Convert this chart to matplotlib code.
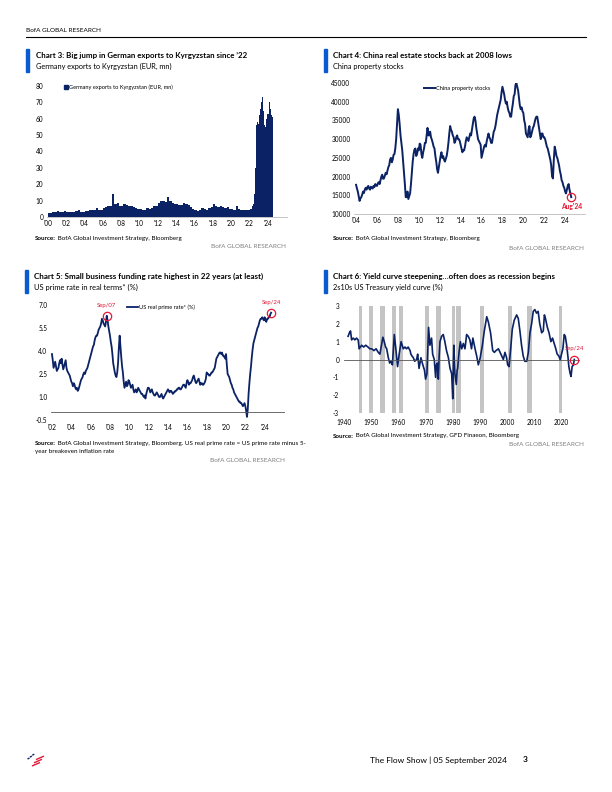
import numpy as np
import matplotlib
matplotlib.use('Agg')
import matplotlib.pyplot as plt
from matplotlib.lines import Line2D
from matplotlib.patches import Patch

# ---- data ----
# Chart 3: Germany exports to Kyrgyzstan (EUR mn), quarterly 2000-2021 then monthly 2022-01..2024-07
ger_quarterly = [2.5, 2.5, 2.8, 3.0, 3.5, 3.0, 3.2, 3.5, 3.0, 3.0, 2.8, 3.0,
                 3.5, 4.0, 3.2, 3.0, 3.5, 3.8, 4.0, 4.2, 4.5, 5.5, 4.0, 4.5,
                 5.5, 6.0, 7.0, 6.5, 14.0, 8.0, 8.5, 7.0, 7.0, 8.0, 7.5, 7.0,
                 6.5, 6.0, 5.5, 5.0, 5.0, 4.5, 4.5, 5.5, 5.0, 5.5, 6.5, 7.0,
                 8.5, 10.0, 9.5, 9.0, 12.5, 10.0, 8.5, 8.0, 8.0, 7.5, 7.5, 8.5,
                 8.0, 7.5, 6.0, 5.0, 4.0, 3.5, 4.0, 5.5, 5.0, 4.5, 5.5, 6.0,
                 8.0, 6.5, 6.0, 6.5, 6.0, 5.5, 6.0, 5.0, 5.0, 4.5, 7.0, 5.0,
                 4.0, 4.0, 4.5, 4.5]
ger_monthly = [4, 5, 5, 6, 7, 8, 14, 30, 52, 56, 58, 57,
               58, 62, 66, 70, 72, 73, 65, 56, 55, 55, 60, 63,
               63, 75, 70, 66, 62, 61, 61]

# Chart 4: China property stocks, monthly Jan 2004 .. Aug 2024
china_prop = [17800, 16800, 16000, 14800, 13500, 14200, 14500, 15200, 16000, 15600, 16500, 17000,
              16500, 17200, 17500, 16800, 16500, 17300, 17000, 16800, 17500, 17200, 18000, 17600,
              17500, 18200, 18500, 18000, 19000, 20000, 20500, 19400, 19500, 20300, 21000, 20600,
              21500, 22500, 23000, 24500, 25000, 23800, 24500, 25800, 26000, 27500, 30000, 34000,
              38000, 36500, 34000, 31000, 29000, 27000, 24000, 21000, 18000, 14500, 14500, 16000,
              14000, 14800, 15500, 18000, 21000, 24000, 26000, 27200, 27500, 25500, 26000, 27500,
              27000, 28800, 28500, 26000, 25000, 26500, 27500, 29000, 29000, 31000, 33000, 31000,
              31000, 32000, 30500, 29800, 29000, 28000, 27500, 25500, 24000, 22000, 21000, 22500,
              24000, 25500, 26500, 25000, 25500, 24500, 24000, 24800, 25500, 27000, 29000, 31500,
              33500, 32500, 32000, 31000, 30500, 29000, 29500, 30500, 31000, 30000, 30000, 29500,
              28500, 27500, 26500, 27000, 27000, 28000, 29500, 30500, 30000, 29500, 30500, 31500,
              31000, 32500, 34000, 35500, 36000, 35000, 33000, 31500, 30000, 29500, 29000, 28500,
              25000, 26000, 27000, 28000, 28500, 28000, 29500, 30500, 31500, 30500, 30000, 29000,
              29000, 30500, 32000, 32500, 33500, 35000, 36500, 37500, 38500, 39500, 40500, 42500,
              44000, 43000, 42000, 40500, 39500, 40000, 38500, 37500, 37000, 36000, 36000, 38000,
              39500, 41500, 42000, 44500, 45000, 44000, 43000, 41000, 39000, 38000, 38500, 37500,
              37000, 35000, 34000, 31500, 31000, 30500, 32500, 33500, 30500, 31000, 32000, 33000,
              33500, 34500, 35500, 36000, 36000, 34500, 33000, 31500, 30000, 31500, 31500, 30500,
              30500, 30000, 29000, 28000, 27500, 26500, 25500, 24500, 23000, 20000, 19500, 24500,
              28000, 27000, 25500, 25000, 24000, 23000, 21500, 20500, 19000, 18500, 17500, 17000,
              16000, 15500, 16500, 17500, 18000, 16500, 15500, 14500]

# Chart 5: US real prime rate (%), monthly Jan 2002 .. Sep 2024
real_prime = [3.8, 3.4, 2.9, 3.1, 3.3, 3.0, 2.7, 2.8, 2.9, 3.2, 3.4, 3.2,
              3.5, 3.1, 2.8, 3.0, 3.2, 3.4, 2.9, 2.7, 2.6, 2.5, 2.4, 2.2,
              2.0, 1.9, 1.7, 1.9, 1.8, 1.6, 1.5, 1.6, 1.4, 1.5, 1.7, 1.9,
              2.1, 2.2, 2.3, 2.5, 2.6, 2.5, 2.7, 2.8, 2.9, 3.1, 3.3, 3.5,
              3.7, 3.9, 4.1, 4.3, 4.4, 4.7, 4.9, 5.0, 5.0, 5.2, 5.4, 5.5,
              5.6, 5.8, 6.1, 6.0, 5.8, 5.7, 5.6, 5.9, 6.3, 6.0, 5.6, 5.3,
              5.0, 4.6, 4.3, 3.8, 3.2, 2.9, 2.6, 2.4, 2.3, 2.6, 3.2, 4.2,
              5.0, 4.3, 3.6, 3.0, 2.6, 2.0, 1.6, 1.8, 2.0, 1.7, 1.8, 2.1,
              2.0, 1.8, 1.6, 1.7, 1.8, 1.5, 1.3, 1.4, 1.5, 1.3, 1.4, 1.6,
              1.5, 1.4, 1.3, 1.2, 1.2, 1.1, 1.0, 1.1, 0.9, 1.2, 1.4, 1.6,
              1.6, 1.5, 1.3, 1.4, 1.5, 1.3, 1.2, 1.1, 1.1, 1.2, 1.3, 1.2,
              1.1, 1.0, 1.0, 1.1, 1.2, 1.0, 0.9, 1.0, 1.1, 1.2, 1.3, 1.4,
              1.5, 1.4, 1.3, 1.4, 1.4, 1.3, 1.2, 1.3, 1.3, 1.4, 1.4, 1.5,
              1.5, 1.6, 1.6, 1.5, 1.5, 1.6, 1.7, 1.8, 1.8, 1.7, 1.6, 1.9,
              2.1, 2.0, 1.8, 1.9, 1.9, 2.0, 2.1, 2.3, 2.4, 2.2, 2.0, 1.9,
              2.0, 2.1, 2.2, 2.0, 1.8, 1.9, 1.9, 1.8, 1.8, 1.9, 2.0, 2.2,
              2.6, 2.5, 2.5, 2.4, 2.4, 2.5, 2.6, 2.6, 2.7, 2.8, 2.9, 3.2,
              3.5, 3.6, 3.7, 3.8, 3.9, 3.9, 3.8, 3.9, 3.7, 3.7, 3.6, 3.5,
              3.8, 3.1, 2.5, 2.4, 2.3, 2.1, 1.9, 1.8, 1.6, 1.5, 1.3, 1.2,
              1.1, 1.0, 0.9, 0.8, 0.7, 0.7, 0.6, 0.6, 0.5, 0.4, 0.5, 0.6,
              0.4, 0.1, -0.3, 0.2, 1.2, 1.9, 2.5, 3.0, 3.6, 4.1, 4.5, 4.7,
              4.9, 5.1, 5.3, 5.5, 5.6, 5.8, 6.0, 6.1, 6.1, 6.2, 6.1, 6.0,
              6.2, 6.0, 5.9, 6.1, 6.1, 6.2, 6.2, 6.4, 6.5]
prime_marks = ['Sep/07', 'Sep/24']
prime_mark_idx = [68, len(real_prime) - 1]

# Chart 6: 2s10s US Treasury yield curve (%)
yc_years = [1941.5, 1942.0, 1942.4, 1942.8, 1943.4, 1944.0, 1944.6, 1945.2, 1945.6, 1946.0, 1946.5, 1947.2, 1948.0, 1948.8, 1949.5,
            1950.2, 1951.0, 1951.8, 1952.6, 1953.2, 1953.8, 1954.3, 1954.8, 1955.3, 1955.7, 1956.3, 1956.8, 1957.3, 1957.8, 1958.5, 1959.0, 1959.7,
            1960.3, 1961.0, 1961.4, 1961.8, 1962.4, 1963.0, 1963.6, 1964.3, 1964.6, 1965.0, 1965.5, 1966.0, 1966.7, 1967.1, 1967.6, 1968.3, 1968.8, 1969.2, 1969.6,
            1970.0, 1970.5, 1970.8, 1971.1, 1971.4, 1971.6, 1971.9, 1972.2, 1972.6, 1973.2, 1973.7, 1974.0, 1974.3, 1974.7, 1975.0, 1975.3, 1975.9, 1976.5, 1977.1, 1977.7, 1978.4, 1979.0, 1979.6,
            1980.0, 1980.2, 1980.4, 1980.8, 1981.3, 1981.6, 1981.8, 1982.3, 1982.8, 1983.3, 1983.9, 1984.5, 1985.1, 1985.7, 1986.3, 1986.9, 1987.4, 1988.2, 1988.8, 1989.4,
            1990.1, 1990.9, 1991.6, 1992.5, 1993.1, 1993.9, 1994.7, 1995.3, 1995.9, 1996.8, 1997.4, 1998.0, 1998.6, 1999.2, 1999.8,
            2000.2, 2000.7, 2001.3, 2001.9, 2002.6, 2003.5, 2004.1, 2004.7, 2005.3, 2005.9, 2006.5, 2007.2, 2007.8, 2008.4, 2009.0, 2009.6,
            2010.2, 2010.8, 2011.4, 2012.0, 2012.7, 2013.3, 2013.7, 2014.1, 2014.8, 2015.4, 2016.1, 2016.7, 2017.3, 2017.9, 2018.4, 2019.0, 2019.5,
            2020.0, 2020.5, 2021.0, 2021.4, 2021.9, 2022.4, 2022.7, 2023.2, 2023.5, 2023.9, 2024.4, 2024.7]
yc_vals = [1.3, 1.5, 1.6, 1.1, 1.2, 1.1, 1.2, 1.1, 0.6, 0.7, 0.8, 0.7, 0.8, 0.7, 0.6,
           0.6, 0.5, 0.6, 0.4, 0.3, 0.8, 1.25, 1.0, 0.7, 0.6, 0.1, -0.2, -0.1, -0.3, 1.4, 0.7, -0.4,
           0.3, 1.0, 0.8, 0.6, 0.7, 0.6, 0.7, 0.5, 0.3, 0.2, 0.1, -0.1, 0.0, 0.3, -0.5, 0.1, -0.2, -0.4, -0.6,
           -1.1, -0.8, 0.5, 1.8, 1.2, 0.8, 1.0, 1.2, 0.3, 0.0, -1.0, -0.3, -0.2, -1.1, 0.2, 1.0, 1.3, 1.4, 1.0, 0.5, 0.1, -0.5, -0.8,
           -2.2, -0.5, 0.8, -0.8, -1.4, -0.6, -0.5, 0.4, 1.0, 0.6, 0.9, 0.6, 1.4, 1.3, 1.1, 0.6, 1.2, 0.6, 0.2, -0.3,
           0.1, 0.8, 1.6, 2.4, 2.1, 1.5, 0.5, 0.4, 0.5, 0.6, 0.4, 0.2, 0.0, 0.4, 0.1,
           -0.3, -0.4, 0.6, 1.7, 2.2, 2.5, 2.3, 1.6, 0.8, 0.2, -0.1, -0.1, 0.4, 1.5, 2.0, 2.7,
           2.8, 2.6, 2.7, 2.0, 1.5, 1.6, 2.5, 2.3, 1.8, 1.5, 1.0, 1.2, 0.9, 0.6, 0.3, 0.2, 0.0,
           0.3, 0.6, 1.4, 1.3, 0.8, 0.1, -0.4, -0.8, -0.95, -0.4, -0.3, 0.0]
rec_start = [1945.4, 1949.2, 1953.4, 1957.5, 1960.1, 1969.8, 1973.7, 1979.7, 1981.3, 1990.2, 2000.5, 2007.3, 2019.2]
rec_end = [1946.6, 1950.5, 1954.9, 1959.0, 1961.6, 1971.2, 1975.5, 1980.8, 1983.0, 1991.4, 2001.8, 2009.2, 2020.1]

# ---- style ----
NAVY = '#0b2265'
BLUE = '#0a5bd0'
RED = '#e31837'
GREY = '#7f7f7f'

plt.rcParams['font.family'] = ['Lato', 'DejaVu Sans']
plt.rcParams['axes.linewidth'] = 0.6
plt.rcParams['axes.unicode_minus'] = False

W, H = 612, 792
fig = plt.figure(figsize=(W / 100, H / 100), dpi=100)
renderer = fig.canvas.get_renderer()


def fx(x):
    return x / W


def fy(y):
    return 1 - y / H


def fit_text(x, y, s, width, size, **kw):
    # shrink/grow the font so that the line spans the same width as in the reference
    t = fig.text(fx(x), fy(y), s, fontsize=size, va='center', **kw)
    w = t.get_window_extent(renderer).width
    t.set_fontsize(size * width / w)
    return t


def make_axes(x0, y0, x1, y1):
    ax = fig.add_axes([fx(x0), fy(y1), (x1 - x0) / W, (y1 - y0) / H])
    for s in ['top', 'right', 'left']:
        ax.spines[s].set_visible(False)
    ax.tick_params(length=0, labelsize=4.7, pad=2.5)
    ax.patch.set_alpha(0)
    return ax


def header(x, y, title, tw, subtitle, sw):
    fig.patches.append(plt.Rectangle((fx(x), fy(y + 23)), 3.2 / W, 23 / H,
                                     transform=fig.transFigure, color=BLUE))
    fit_text(x + 9.5, y + 6.8, title, tw, 6.0, fontweight='bold')
    fit_text(x + 9.5, y + 17.8, subtitle, sw, 6.0)


def source(x, y, rest, right_x, brand_y, rest2=None):
    t = fig.text(fx(x), fy(y), 'Source:', fontsize=4.5, fontweight='bold', va='center')
    bb = t.get_window_extent(renderer)
    fig.text(bb.x1 / W, fy(y), ' ' + rest, fontsize=4.5, va='center')
    if rest2:
        fig.text(fx(x), fy(y + 8.5), rest2, fontsize=4.5, va='center')
    fig.text(fx(right_x), fy(brand_y), 'BofA GLOBAL RESEARCH', fontsize=4.6,
             color=GREY, ha='right', va='center')


# page header
fig.text(fx(26), fy(31), 'BofA GLOBAL RESEARCH', fontsize=4.6, va='center')
fig.lines.append(Line2D([fx(26), fx(586)], [fy(36.5), fy(36.5)], transform=fig.transFigure,
                        color='black', lw=0.8))

# ---- Chart 3 ----
header(26, 49, "Chart 3: Big jump in German exports to Kyrgyzstan since \u201922", 211,
       'Germany exports to Kyrgyzstan (EUR, mn)', 137)
ax = make_axes(47, 86, 287, 217)
qx = 2000 + np.arange(len(ger_quarterly)) * 0.25 + 0.125
mx = 2022 + np.arange(len(ger_monthly)) / 12 + 1 / 24
ax.bar(qx, ger_quarterly, width=0.25, color=NAVY, linewidth=0)
ax.bar(mx, ger_monthly, width=1 / 12, color=NAVY, linewidth=0)
ax.set_xlim(1999.9, 2026.1)
ax.set_ylim(0, 80)
ax.set_yticks(range(0, 81, 10))
ax.set_xticks(range(2000, 2025, 2))
ax.set_xticklabels(["'%02d" % (y % 100) for y in range(2000, 2025, 2)])
ax.spines['bottom'].set_color('#bbbbbb')
ax.legend(handles=[Patch(color=NAVY, label='Germany exports to Kyrgyzstan (EUR, mn)')],
          loc='upper left', bbox_to_anchor=(0.06, 1.035), frameon=False, fontsize=4.1,
          handlelength=0.7, handleheight=0.7, handletextpad=0.15, borderpad=0)
source(35, 238.5, 'BofA Global Investment Strategy, Bloomberg', 286, 246.5)

# ---- Chart 4 ----
header(324, 49, 'Chart 4: China real estate stocks back at 2008 lows', 178,
       'China property stocks', 71)
ax = make_axes(354, 83, 585, 214)
cx = 2004 + np.arange(len(china_prop)) / 12
ax.plot(cx, china_prop, color=NAVY, lw=1.4, label='China property stocks')
ax.set_xlim(2003.8, 2025.9)
ax.set_ylim(10000, 45000)
ax.set_yticks(range(10000, 45001, 5000))
ax.set_xticks(range(2004, 2025, 2))
ax.set_xticklabels(["'%02d" % (y % 100) for y in range(2004, 2025, 2)])
ax.spines['bottom'].set_color('#bbbbbb')
ax.plot(cx[-1], china_prop[-1], 'o', ms=6, mfc='none', mec=RED, mew=0.9)
ax.annotate("Aug'24", (cx[-1], china_prop[-1]), xytext=(0.5, -7), textcoords='offset points',
            ha='center', va='center', color=RED, fontsize=4.8, fontweight='bold')
ax.legend(loc='upper center', bbox_to_anchor=(0.445, 1.0), frameon=False, fontsize=4.1,
          handlelength=1.9, handletextpad=0.2, borderpad=0)
source(333, 239, 'BofA Global Investment Strategy, Bloomberg', 584, 248)

# ---- Chart 5 ----
header(25, 270, 'Chart 5: Small business funding rate highest in 22 years (at least)', 230,
       'US prime rate in real terms* (%)', 104)
ax = make_axes(51, 305, 285, 420)
px = 2002 + np.arange(len(real_prime)) / 12
ax.plot(px, real_prime, color=NAVY, lw=1.3, label='US real prime rate* (%)')
ax.axhline(0, color='#555555', lw=0.6)
ax.spines['bottom'].set_visible(False)
ax.set_xlim(2001.9, 2026.1)
ax.set_ylim(-0.5, 7.0)
ax.set_yticks([-0.5, 1.0, 2.5, 4.0, 5.5, 7.0])
ax.set_yticklabels(['-0.5', '1.0', '2.5', '4.0', '5.5', '7.0'])
ax.set_xticks(range(2002, 2025, 2))
ax.set_xticklabels(["'%02d" % (y % 100) for y in range(2002, 2025, 2)])
ax.tick_params(axis='x', pad=3)
for lab, i in zip(prime_marks, prime_mark_idx):
    ax.plot(px[i], real_prime[i], 'o', ms=6, mfc='none', mec=RED, mew=0.9, clip_on=False)
    ax.annotate(lab, (px[i], real_prime[i]), xytext=(0, 7.5), textcoords='offset points',
                ha='center', va='center', color=RED, fontsize=4.3, annotation_clip=False)
ax.legend(loc='upper center', bbox_to_anchor=(0.47, 1.03), frameon=False, fontsize=4.1,
          handlelength=2.0, handletextpad=0.2, borderpad=0)
source(35, 443.5, 'BofA Global Investment Strategy, Bloomberg. US real prime rate = US prime rate minus 5-',
       285, 461, rest2='year breakeven inflation rate')

# ---- Chart 6 ----
header(324, 270, 'Chart 6: Yield curve steepening\u2026often does as recession begins', 222,
       '2s10s US Treasury yield curve (%)', 110)
ax = make_axes(344, 306, 580, 413)
for a, b in zip(rec_start, rec_end):
    ax.axvspan(a, b, color='#c4c4c4', lw=0)
ax.plot(yc_years, yc_vals, color=NAVY, lw=1.2)
ax.axhline(0, color='#555555', lw=0.6)
ax.spines['bottom'].set_visible(False)
ax.set_xlim(1940, 2026.8)
ax.set_ylim(-3, 3)
ax.set_yticks(range(-3, 4))
ax.tick_params(axis='y', pad=3.5)
ax.tick_params(axis='x', pad=4)
ax.set_xticks(range(1940, 2021, 10))
ax.plot(yc_years[-1], yc_vals[-1], 'o', ms=6, mfc='none', mec=RED, mew=0.9)
ax.annotate('Sep/24', (yc_years[-1], yc_vals[-1]), xytext=(0.5, 8), textcoords='offset points',
            ha='center', va='center', color=RED, fontsize=4.3)
source(333, 436, 'BofA Global Investment Strategy, GFD Finaeon, Bloomberg', 584, 444.5)

# ---- footer ----
lax = fig.add_axes([fx(26), fy(768), 20 / W, 16 / H])
lax.set_xlim(0, 20)
lax.set_ylim(0, 16)
lax.axis('off')
for k in range(3):
    lax.plot([6 + 2 * k, 14 + 2 * k], [2 + 3.2 * k, 5.5 + 3.2 * k], color=RED, lw=1.0,
             solid_capstyle='butt')
    lax.plot([1.5 + 2.4 * k, 3.5 + 2.4 * k], [9 + 1.9 * k, 10 + 1.9 * k], color=NAVY, lw=1.0,
             solid_capstyle='butt')
fig.text(fx(507), fy(760), 'The Flow Show | 05 September 2024', fontsize=6.0, ha='right', va='center')
fig.text(fx(525), fy(760), '3', fontsize=6.0, ha='center', va='center', fontweight='bold')

fig.savefig('out.png', dpi=100)
